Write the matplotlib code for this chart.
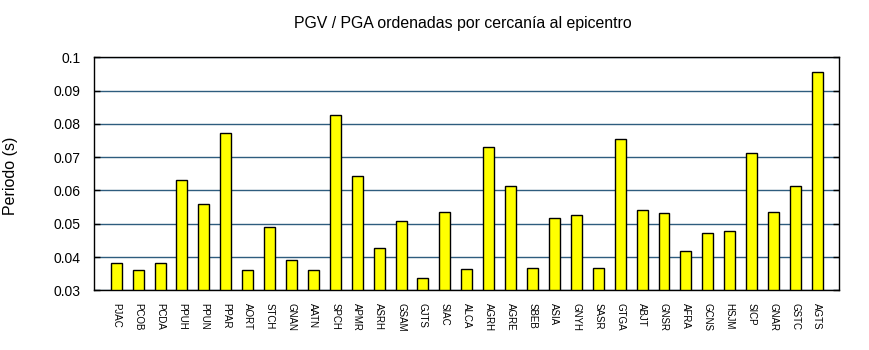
import numpy as np
import matplotlib.pyplot as plt

plt.rcParams['font.family'] = ['Liberation Sans', 'DejaVu Sans']

# estaciones ordenadas por distancia al epicentro
estaciones = ['PJAC', 'PCOB', 'PCDA', 'PPUH', 'PPUN', 'PPAR', 'AORT', 'STCH',
              'GNAN', 'AATN', 'SPCH', 'APMR', 'ASRH', 'GSAM', 'GJTS', 'SIAC',
              'ALCA', 'AGRH', 'AGRE', 'SBEB', 'ASIA', 'GNYH', 'SASR', 'GTGA',
              'ABJT', 'GNSR', 'AFRA', 'GCNS', 'HSJM', 'SICP', 'GNAR', 'GSTC',
              'AGTS']
periodo = [0.0381, 0.0360, 0.0381, 0.0630, 0.0560, 0.0774, 0.0360, 0.0490,
           0.0390, 0.0360, 0.0826, 0.0642, 0.0428, 0.0509, 0.0338, 0.0536,
           0.0365, 0.0729, 0.0614, 0.0368, 0.0518, 0.0527, 0.0368, 0.0755,
           0.0542, 0.0533, 0.0419, 0.0473, 0.0479, 0.0711, 0.0536, 0.0614,
           0.0957]
yticks = [0.03, 0.04, 0.05, 0.06, 0.07, 0.08, 0.09, 0.1]

fig = plt.figure(figsize=(8.7, 3.5), dpi=100)
ax = fig.add_axes([0.1084, 0.1706, 0.8563, 0.6657])

x = np.arange(len(estaciones))
ax.bar(x, np.array(periodo) - 0.03, bottom=0.03, width=0.5,
       color='#ffff00', edgecolor='black', linewidth=1, zorder=3)

ax.set_xlim(-1, len(estaciones))
ax.set_ylim(0.03, 0.1)
ax.set_yticks(yticks)
ax.set_yticklabels(['0.03', '0.04', '0.05', '0.06', '0.07', '0.08', '0.09', '0.1'])
ax.yaxis.grid(True, color='#2e5c7e', linewidth=1, zorder=1)
ax.set_axisbelow(True)

ax.set_xticks(x)
ax.set_xticklabels(estaciones, rotation=270, fontsize=7)
ax.tick_params(axis='x', length=0, pad=9)
ax.tick_params(axis='y', direction='in', length=4, left=True, right=True,
               labelsize=10, pad=10, width=1)

for s in ax.spines.values():
    s.set_linewidth(1)

ax.set_ylabel('Periodo (s)', fontsize=11.5)
ax.yaxis.set_label_coords(-0.102, 0.49)
ax.set_title('PGV / PGA ordenadas por cercanía al epicentro', fontsize=11.4,
             pad=21, x=0.494)

fig.savefig('out.png', dpi=100)
